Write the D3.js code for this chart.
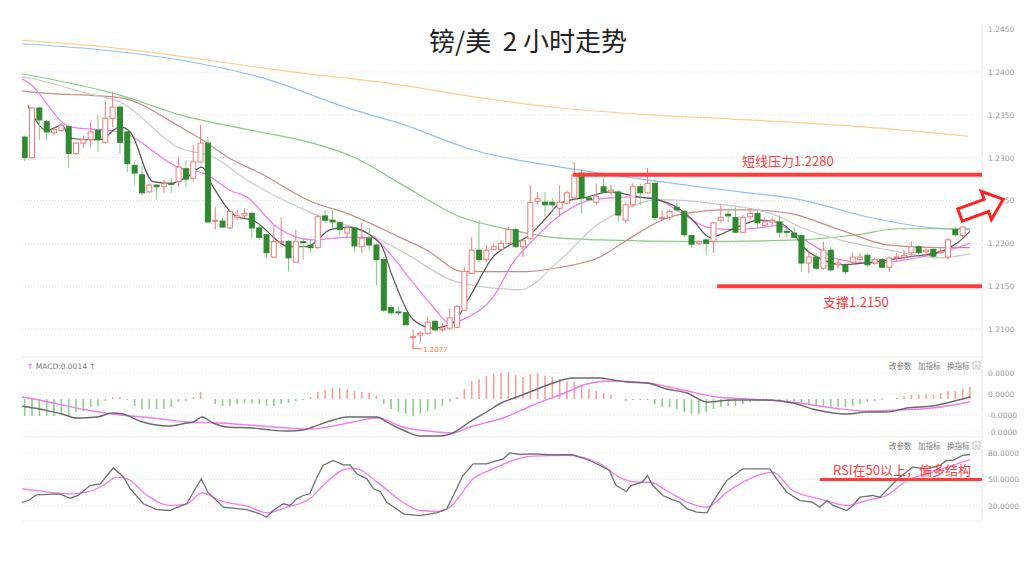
<!DOCTYPE html>
<html><head><meta charset="utf-8">
<script src="https://cdn.jsdelivr.net/npm/d3@7"></script>
<style>body{margin:0;background:#fff;}svg{display:block;font-family:"Noto Sans CJK SC","Noto Sans",sans-serif;}</style>
</head><body><svg id="c" width="1024" height="571"></svg>
<script>
// ---------- DATA ----------
const title = "镑/美  2 小时走势";
const opens = [1.2324,1.2300,1.2358,1.2342,1.2329,1.2332,1.2336,1.2305,1.2317,1.2321,1.2332,1.2318,1.2346,1.2359,1.2330,1.2291,1.2280,1.2260,1.2268,1.2266,1.2270,1.2272,1.2287,1.2276,1.2295,1.2317,1.2226,1.2226,1.2218,1.2230,1.2232,1.2235,1.2218,1.2210,1.2184,1.2201,1.2202,1.2178,1.2202,1.2198,1.2195,1.2232,1.2227,1.2224,1.2212,1.2218,1.2196,1.2206,1.2198,1.2181,1.2125,1.2120,1.2119,1.2090,1.2093,1.2095,1.2109,1.2099,1.2101,1.2102,1.2122,1.2165,1.2192,1.2181,1.2193,1.2193,1.2200,1.2216,1.2196,1.2206,1.2249,1.2248,1.2248,1.2241,1.2247,1.2253,1.2282,1.2253,1.2248,1.2266,1.2260,1.2260,1.2227,1.2245,1.2266,1.2259,1.2270,1.2229,1.2230,1.2242,1.2237,1.2209,1.2200,1.2204,1.2202,1.2227,1.2234,1.2230,1.2213,1.2231,1.2235,1.2221,1.2225,1.2225,1.2214,1.2212,1.2209,1.2177,1.2184,1.2171,1.2192,1.2175,1.2175,1.2178,1.2181,1.2186,1.2177,1.2181,1.2172,1.2183,1.2184,1.2189,1.2196,1.2190,1.2193,1.2190,1.2184,1.2216,1.2209,1.2230];
const highs = [1.2326,1.2359,1.2359,1.2344,1.2336,1.2340,1.2338,1.2318,1.2326,1.2342,1.2350,1.2365,1.2377,1.2361,1.2332,1.2295,1.2291,1.2270,1.2269,1.2274,1.2276,1.2301,1.2297,1.2315,1.2338,1.2324,1.2242,1.2230,1.2238,1.2239,1.2241,1.2237,1.2221,1.2211,1.2221,1.2230,1.2204,1.2216,1.2206,1.2204,1.2233,1.2239,1.2239,1.2225,1.2219,1.2219,1.2224,1.2218,1.2200,1.2184,1.2128,1.2126,1.2120,1.2099,1.2097,1.2114,1.2111,1.2107,1.2124,1.2128,1.2172,1.2207,1.2227,1.2198,1.2200,1.2204,1.2219,1.2218,1.2206,1.2268,1.2260,1.2260,1.2253,1.2268,1.2262,1.2295,1.2286,1.2254,1.2270,1.2276,1.2268,1.2262,1.2248,1.2270,1.2270,1.2288,1.2274,1.2239,1.2239,1.2247,1.2239,1.2210,1.2204,1.2206,1.2225,1.2245,1.2241,1.2242,1.2233,1.2241,1.2239,1.2230,1.2230,1.2233,1.2219,1.2219,1.2210,1.2192,1.2189,1.2202,1.2196,1.2181,1.2177,1.2189,1.2189,1.2189,1.2184,1.2183,1.2184,1.2189,1.2192,1.2202,1.2198,1.2196,1.2194,1.2194,1.2206,1.2219,1.2220,1.2242];
const lows = [1.2296,1.2298,1.2321,1.2321,1.2326,1.2330,1.2288,1.2303,1.2311,1.2312,1.2307,1.2316,1.2336,1.2305,1.2283,1.2268,1.2256,1.2259,1.2251,1.2259,1.2259,1.2266,1.2265,1.2272,1.2294,1.2224,1.2216,1.2218,1.2216,1.2227,1.2230,1.2206,1.2204,1.2183,1.2183,1.2200,1.2167,1.2177,1.2181,1.2189,1.2194,1.2224,1.2218,1.2210,1.2207,1.2190,1.2189,1.2192,1.2151,1.2120,1.2116,1.2116,1.2104,1.2077,1.2084,1.2093,1.2097,1.2097,1.2099,1.2101,1.2121,1.2164,1.2178,1.2178,1.2192,1.2192,1.2198,1.2195,1.2184,1.2204,1.2245,1.2231,1.2241,1.2231,1.2245,1.2251,1.2235,1.2249,1.2245,1.2259,1.2256,1.2225,1.2224,1.2242,1.2245,1.2258,1.2227,1.2227,1.2227,1.2237,1.2207,1.2195,1.2198,1.2186,1.2189,1.2224,1.2224,1.2212,1.2212,1.2227,1.2218,1.2219,1.2221,1.2207,1.2207,1.2206,1.2167,1.2165,1.2169,1.2169,1.2167,1.2171,1.2164,1.2175,1.2177,1.2172,1.2175,1.2171,1.2167,1.2178,1.2181,1.2184,1.2184,1.2186,1.2183,1.2188,1.2181,1.2207,1.2206,1.2227];
const closes = [1.2300,1.2358,1.2344,1.2330,1.2333,1.2338,1.2305,1.2317,1.2321,1.2330,1.2321,1.2346,1.2359,1.2318,1.2293,1.2282,1.2259,1.2268,1.2266,1.2270,1.2269,1.2289,1.2275,1.2295,1.2317,1.2225,1.2227,1.2219,1.2237,1.2232,1.2235,1.2218,1.2207,1.2189,1.2202,1.2202,1.2183,1.2202,1.2201,1.2195,1.2231,1.2227,1.2225,1.2216,1.2218,1.2197,1.2206,1.2198,1.2181,1.2122,1.2119,1.2119,1.2105,1.2091,1.2095,1.2108,1.2099,1.2101,1.2113,1.2126,1.2167,1.2192,1.2181,1.2192,1.2196,1.2200,1.2216,1.2196,1.2203,1.2248,1.2252,1.2245,1.2245,1.2248,1.2259,1.2280,1.2253,1.2251,1.2255,1.2260,1.2262,1.2233,1.2245,1.2266,1.2259,1.2270,1.2230,1.2230,1.2237,1.2239,1.2210,1.2199,1.2202,1.2200,1.2224,1.2230,1.2232,1.2213,1.2230,1.2235,1.2224,1.2225,1.2227,1.2213,1.2213,1.2207,1.2177,1.2184,1.2171,1.2192,1.2169,1.2177,1.2167,1.2184,1.2184,1.2175,1.2181,1.2172,1.2183,1.2184,1.2186,1.2196,1.2189,1.2192,1.2185,1.2191,1.2204,1.2210,1.2219,1.2239];

// moving averages: [candle index, price]
const ma5  = [[0.45,1.2361],[3,1.2332],[5.1,1.2338],[6.2,1.2323],[8.5,1.2321],[10.3,1.2321],[13,1.2336],[14.4,1.2330],[17.5,1.2272],[19.8,1.2270],[22.1,1.2277],[24.2,1.2289],[25.7,1.2266],[29,1.2231],[31.1,1.2227],[36.2,1.2196],[38.5,1.2196],[41.7,1.2216],[44,1.2219],[48.5,1.2200],[50.2,1.2161],[53,1.2111],[55.7,1.2101],[58.4,1.2107],[60.7,1.2137],[63.9,1.2184],[66.2,1.2198],[68.5,1.2207],[71.3,1.2231],[73.1,1.2247],[76.7,1.2254],[79.9,1.2260],[83.9,1.2254],[86.3,1.2251],[89,1.2242],[91.2,1.2227],[93.5,1.2207],[97.2,1.2219],[100.3,1.2227],[103,1.2224],[104.4,1.2216],[106.7,1.2192],[108.9,1.2181],[111.2,1.2175],[115.7,1.2178],[120.4,1.2184],[124.9,1.2190],[127.2,1.2200],[129,1.2214]];
const ma10 = [[-0.4,1.2392],[0.45,1.2388],[6.2,1.2336],[13,1.2330],[21.2,1.2288],[24.9,1.2280],[28,1.2262],[30.3,1.2254],[34.4,1.2219],[39.3,1.2204],[44,1.2207],[47.5,1.2207],[49.4,1.2192],[53,1.2154],[55.7,1.2126],[58,1.2107],[60.3,1.2113],[63.9,1.2137],[66.6,1.2177],[69.4,1.2204],[73.1,1.2233],[77.5,1.2251],[82.2,1.2254],[85.7,1.2253],[89,1.2239],[93.1,1.2219],[96.6,1.2216],[100.3,1.2218],[103,1.2221],[104.8,1.2213],[108.1,1.2195],[111.2,1.2181],[115.7,1.2177],[120.4,1.2181],[124.9,1.2189],[129,1.2200]];
const ma20 = [[-0.4,1.2394],[0.45,1.2393],[8.5,1.2375],[13,1.2365],[21.2,1.2311],[25.7,1.2301],[30.3,1.2274],[39.3,1.2235],[46.7,1.2212],[51.2,1.2192],[59.4,1.2154],[67.6,1.2146],[73.1,1.2181],[78.5,1.2224],[79.9,1.2231],[86.7,1.2251],[93.5,1.2247],[103,1.2231],[105.8,1.2219],[111.2,1.2204],[118,1.2192],[124.9,1.2183],[129,1.2188]];
const ma30 = [[-0.4,1.2378],[0.45,1.2377],[13,1.2370],[21.2,1.2336],[24.9,1.2317],[27.6,1.2301],[32.1,1.2282],[39.3,1.2248],[44,1.2235],[51.2,1.2207],[54.9,1.2192],[59.8,1.2167],[68.5,1.2167],[73.1,1.2172],[78.5,1.2184],[82.2,1.2204],[89,1.2233],[95.8,1.2239],[98.9,1.2239],[104.4,1.2235],[111.2,1.2216],[118,1.2198],[124.9,1.2195],[129,1.2195]];
const ma60 = [[-0.4,1.2398],[13,1.2373],[21.2,1.2350],[32.1,1.2330],[39.3,1.2317],[44.8,1.2301],[51.2,1.2270],[59.4,1.2231],[66.2,1.2216],[73.1,1.2206],[78.5,1.2204],[92.1,1.2202],[105.8,1.2204],[113.5,1.2210],[119.4,1.2217],[129,1.2217]];
const ma120 = [[-0.4,1.2433],[10.3,1.2426],[21.2,1.2414],[32.1,1.2394],[44.8,1.2356],[51.2,1.2340],[61.2,1.2309],[73.1,1.2289],[78.5,1.2282],[92.1,1.2266],[97.6,1.2260],[105.8,1.2251],[114.9,1.2231],[123.9,1.2218],[129,1.2216]];
const ma250 = [[-0.4,1.2437],[10.3,1.2430],[24.9,1.2414],[32.1,1.2405],[37.6,1.2399],[51.2,1.2385],[62.1,1.2370],[73.1,1.2358],[85.3,1.2350],[98.9,1.2344],[112.6,1.2337],[128.7,1.2325]];
const priceTicks = [1.2100,1.2150,1.2200,1.2250,1.2300,1.2350,1.2400,1.2450];
const resistance = {price:1.2280, from:74.8, label:"短线压力1.2280"};
const support = {price:1.2150, from:94.5, label:"支撑1.2150"};
const lowMark = {index:53, label:"1.2077"};

// MACD
const macdHist = [-0.00085,-0.00085,-0.00085,-0.00085,-0.00085,-0.00075,-0.00085,-0.00065,-0.0006,-0.0004,-0.00035,-0.0001,0.0001,0.0001,-0.00005,-0.00035,-0.0005,-0.0005,-0.0005,-0.0005,-0.0004,-0.00015,-0.0001,0.0001,0.00035,0,-0.00025,-0.00035,-0.00035,-0.00025,-0.0002,-0.0002,-0.00025,-0.00035,-0.00035,-0.00025,-0.0002,-0.0001,-0.00005,0.0001,0.00035,0.00045,0.00055,0.00055,0.0005,0.0004,0.00035,0.0003,0.00015,-0.00025,-0.0005,-0.00065,-0.00075,-0.00085,-0.00075,-0.0006,-0.0005,-0.00035,-0.00015,0.0001,0.0005,0.0009,0.001,0.00115,0.00125,0.0013,0.00135,0.0012,0.0011,0.00125,0.0013,0.00115,0.0011,0.001,0.0009,0.00085,0.00065,0.0005,0.0004,0.0003,0.0002,0,-0.0001,-0.00005,-0.00005,-0.00005,-0.00025,-0.0004,-0.0004,-0.0005,-0.00065,-0.00075,-0.00075,-0.00065,-0.0005,-0.0004,-0.00035,-0.00035,-0.00025,-0.00015,-0.0001,-0.0001,-0.0001,-0.0001,-0.0001,-0.0001,-0.00015,-0.00025,-0.00035,-0.0004,-0.0004,-0.0004,-0.0004,-0.00035,-0.00025,-0.00015,-0.0001,-0.00005,0,0.00005,0.00015,0.0002,0.0002,0.00025,0.0002,0.0003,0.0004,0.0004,0.0005,0.0006];
const macdDif = [[-0.4,-0.00036],[0.45,-0.0004],[3.9,-0.00065],[5.1,-0.00075],[7.1,-0.00095],[9.9,-0.0009],[12,-0.0007],[13.4,-0.00075],[16.1,-0.00115],[19.8,-0.00135],[22.1,-0.0012],[23,-0.00115],[24.2,-0.0009],[25.7,-0.0012],[27.6,-0.0014],[31.1,-0.00145],[33.5,-0.00155],[35.8,-0.0016],[38,-0.00155],[39.3,-0.0014],[42.1,-0.00105],[44,-0.0009],[48.1,-0.0009],[49.4,-0.00115],[51.6,-0.00155],[53.9,-0.00185],[56.7,-0.00185],[58.4,-0.0017],[60.7,-0.00115],[63,-0.00065],[65.3,-0.00015],[67.2,0.0001],[70.3,0.00055],[72.1,0.0008],[74.8,0.00105],[78.5,0.00105],[80.3,0.00095],[82.2,0.00085],[84.9,0.0008],[87.6,0.0005],[90.4,0.0003],[93.1,-0.00015],[96.6,-0.00005],[101.3,-0.00005],[104.8,-0.0002],[108.1,-0.00055],[112.2,-0.00075],[114.9,-0.00065],[117.6,-0.00065],[120.4,-0.00045],[123.9,-0.00035],[125.8,-0.0002],[129,0.0001]];
const macdDea = [[-0.4,0.0001],[0.45,0.00005],[8.5,-0.00055],[12,-0.00075],[17.5,-0.00095],[22.1,-0.00115],[26.6,-0.0012],[35.8,-0.00145],[38.9,-0.0015],[44.8,-0.00115],[48.1,-0.00095],[51.6,-0.0014],[56.3,-0.00165],[58.4,-0.0017],[60.7,-0.0014],[65.3,-0.00095],[69.4,-0.0003],[74,0.00035],[76.7,0.00075],[79.8,0.0009],[84.9,0.0008],[89.8,0.00045],[94.5,0.0001],[101.3,-0.00005],[105.8,-0.0002],[110.3,-0.00045],[114.9,-0.0006],[119.4,-0.00055],[123.9,-0.00045],[129,-0.00015]];
const macdTicks = [0.0013,0.00025,-0.0008,-0.00165];
const macdTickLabels = ["0.0000","0.0000","-0.0000","-0.0000"];
const macdLabel = "MACD:0.0014";

// RSI
const rsi = [[-0.4,24],[0.5,26.2],[1.6,32.7],[4.8,33.8],[6.2,28.8],[7.3,31.9],[8.9,43.2],[10.3,45.1],[12.1,63.3],[13.5,52.6],[14.4,39.5],[16.2,22.5],[18,16],[19.8,14.9],[20.3,16.8],[22.1,22.5],[24.1,50.8],[25,35.6],[27.1,18.6],[30.3,16],[32.1,11.2],[33,7.3],[33.9,14.9],[35.3,22.5],[36.2,20.6],[37.1,28.1],[38,31.9],[38.9,33.8],[39.8,50.8],[40.7,65.9],[42.1,71.5],[43.5,66.6],[44.4,66.6],[45.3,56.5],[46.7,50.8],[47.6,39.5],[48.5,36.4],[49.4,24.3],[51.7,11.2],[53.9,9.2],[56.2,12.3],[57.6,16.8],[58.5,31.9],[59.8,54.5],[61.2,67.8],[63,67.8],[65.3,73.4],[66.2,80.2],[67.6,78.3],[69.3,79.1],[71.7,78],[74.8,78],[77.1,71.5],[78.5,65.9],[79.8,60.2],[80.7,43.2],[82.1,36.4],[82.7,43.2],[84.3,46.9],[85,54.5],[85.7,43.2],[87.1,31.9],[88.4,27.3],[89.4,24.3],[90.4,16.8],[91.7,13],[93.1,12.3],[93.9,24.3],[95.8,48.9],[98,62.1],[99.4,62.1],[101.7,62.1],[102.6,50.8],[104,35.6],[105.8,26.2],[107.5,24.3],[108.5,18.6],[109.5,26.2],[110.3,20.6],[112.2,14.9],[113,20.6],[114,30],[115.7,31.9],[116.7,30],[117.6,37.5],[119.4,52.6],[121.2,63.9],[123.1,62.1],[124.9,65.9],[125.8,71.5],[126.6,71.5],[128,77.2],[129,78.3]];
const rsiSignal = [[-0.4,39.5],[0.45,38.7],[6.2,33.8],[8.5,35.6],[10.7,43.2],[12.6,52.6],[14,50.8],[16.7,31.9],[19.8,20.6],[22.1,22.5],[24.2,34.9],[26.6,26.2],[30.3,19.8],[33.1,12.3],[35.8,18.6],[38.9,28.1],[41.2,47],[44,62.1],[45.3,62.1],[48.1,47],[51.6,24.3],[53.9,14.9],[56.7,13.8],[58,18.6],[61.2,50.8],[63.9,62.1],[67.6,74.1],[69.3,76.4],[74,77.2],[78.5,67.8],[81.6,50.8],[83.9,46.9],[85.3,46.9],[87.6,37.5],[90.4,24.3],[93.1,18.6],[95.8,35.6],[98.9,50.8],[102.1,58.3],[104.8,37.5],[108.5,28.1],[112.2,20.6],[114.9,26.2],[117.6,31.9],[120.4,48.9],[123.9,58.3],[129,72.6]];
const rsiTicks = [20,50,80];
const rsiNote = {value:50, from:108.5, label:"RSI在50以上，偏多结构"};
const toolLabels = ["改参数","加指标","换指标"];

// ---------- DRAW ----------
const svg = d3.select("#c");
const L = 22, R = 982;
const x = d3.scaleLinear().domain([0,129]).range([24.7,970]);
const y = d3.scaleLinear().domain([1.2100,1.2400]).range([329,72]);
const my = d3.scaleLinear().domain([-0.001,0.001]).range([419,379]);
const ry = d3.scaleLinear().domain([20,80]).range([506,453]);

const defs = svg.append("defs");
defs.append("clipPath").attr("id","mainClip").append("rect").attr("x",L).attr("y",25).attr("width",R-L).attr("height",328);
defs.append("clipPath").attr("id","macdClip").append("rect").attr("x",L).attr("y",358).attr("width",R-L).attr("height",80);
defs.append("clipPath").attr("id","rsiClip").append("rect").attr("x",L).attr("y",438).attr("width",R-L).attr("height",83);

// title
svg.append("text").attr("x",528).attr("y",51).attr("text-anchor","middle").style("white-space","pre")
  .attr("font-size",26).attr("fill","#222").text(title);

// frame lines
svg.append("line").attr("x1",R).attr("x2",R).attr("y1",25).attr("y2",521).attr("stroke","#e8e8e8");
[357,437,521].forEach(v=>svg.append("line").attr("x1",L).attr("x2",R).attr("y1",v).attr("y2",v).attr("stroke","#ececec"));

// main grid + axis
const gridG = svg.append("g");
gridG.selectAll("line").data(priceTicks.filter(d=>d<1.245)).join("line")
  .attr("x1",L).attr("x2",R).attr("y1",d=>y(d)).attr("y2",d=>y(d))
  .attr("stroke","#dcdcdc").attr("stroke-dasharray","1,2");
const axMain = svg.append("g").attr("transform",`translate(${R},0)`)
  .call(d3.axisRight(y).tickValues(priceTicks).tickFormat(d3.format(".4f")).tickSize(0).tickPadding(6));
axMain.select(".domain").remove();
axMain.selectAll("text").attr("font-size",7.5).attr("fill","#999").attr("font-family","DejaVu Sans");

// MAs
const mainG = svg.append("g").attr("clip-path","url(#mainClip)");
const line = d3.line().x(d=>x(d[0])).y(d=>y(d[1])).curve(d3.curveMonotoneX);
[[ma250,"#fbcf8c",1.2],[ma120,"#8fc2ee",1.2],[ma60,"#86c986",1.2],[ma30,"#c48d88",1.2],[ma20,"#c8c8c8",1.2],[ma10,"#f07cf0",1.2],[ma5,"#555",1.2]]
 .forEach(([d,c,w])=>mainG.append("path").attr("d",line(d)).attr("fill","none").attr("stroke",c).attr("stroke-width",w));

// candles
const idx = d3.range(opens.length);
const upC = "#f07a7a", dnC = "#2f8a2f", dnWick = "#86c886";
const cg = mainG.append("g");
cg.selectAll("line").data(idx).join("line")
  .attr("x1",i=>x(i)).attr("x2",i=>x(i)).attr("y1",i=>y(highs[i])).attr("y2",i=>y(lows[i]))
  .attr("stroke",i=>closes[i]>=opens[i]?upC:dnWick).attr("stroke-width",1);
cg.selectAll("rect").data(idx).join("rect")
  .attr("x",i=>x(i)-2.5).attr("width",5)
  .attr("y",i=>y(Math.max(opens[i],closes[i])))
  .attr("height",i=>Math.max(1,Math.abs(y(opens[i])-y(closes[i]))))
  .attr("fill",i=>closes[i]>=opens[i]?"#fff":dnC)
  .attr("stroke",i=>closes[i]>=opens[i]?upC:dnC).attr("stroke-width",1);

// low marker
const lx = x(lowMark.index), ly = y(lows[lowMark.index]);
svg.append("path").attr("d",`M${lx},${ly-4}V${ly}H${lx+9}`).attr("fill","none").attr("stroke","#f08040");
svg.append("text").attr("x",lx+10).attr("y",ly+3).attr("font-size",7).attr("fill","#f08040").attr("font-family","DejaVu Sans").text(lowMark.label);

// resistance / support
const red = "#ff3b3b";
svg.append("line").attr("x1",x(resistance.from)).attr("x2",R).attr("y1",y(resistance.price)).attr("y2",y(resistance.price)).attr("stroke",red).attr("stroke-width",4);
svg.append("text").attr("x",742).attr("y",y(resistance.price)-9).attr("font-size",13).attr("fill",red).text(resistance.label);
svg.append("line").attr("x1",x(support.from)).attr("x2",R).attr("y1",y(support.price)).attr("y2",y(support.price)).attr("stroke",red).attr("stroke-width",4);
svg.append("text").attr("x",823).attr("y",y(support.price)+21).attr("font-size",13).attr("fill",red).text(support.label);

// arrow
svg.append("path").attr("d","M0,-6.5H28V-15L46,0L28,15V6.5H0Z").attr("transform","translate(960,215) rotate(-20)")
  .attr("fill","#fff").attr("stroke","#ff2020").attr("stroke-width",3).attr("stroke-linejoin","miter");

// ---- MACD panel ----
const macdG = svg.append("g");
macdG.selectAll("line.g").data(macdTicks).join("line").attr("class","g")
  .attr("x1",L).attr("x2",R).attr("y1",d=>my(d)).attr("y2",d=>my(d)).attr("stroke","#e2e2e2").attr("stroke-dasharray","1,2");
const axM = svg.append("g").attr("transform",`translate(${R},0)`)
  .call(d3.axisRight(my).tickValues(macdTicks).tickFormat((d,i)=>macdTickLabels[i]).tickSize(0).tickPadding(6));
axM.select(".domain").remove();
axM.selectAll("text").attr("font-size",7.5).attr("fill","#999").attr("font-family","DejaVu Sans");
const mc = macdG.append("g").attr("clip-path","url(#macdClip)");
mc.selectAll("line.b").data(idx).join("line").attr("class","b")
  .attr("x1",i=>x(i)).attr("x2",i=>x(i)).attr("y1",my(0)).attr("y2",i=>my(macdHist[i]))
  .attr("stroke",i=>macdHist[i]>=0?"#f4a0a0":"#8fcc8f").attr("stroke-width",1.6);
const ml = d3.line().x(d=>x(d[0])).y(d=>my(d[1])).curve(d3.curveMonotoneX);
mc.append("path").attr("d",ml(macdDea)).attr("fill","none").attr("stroke","#f07cf0").attr("stroke-width",1.4);
mc.append("path").attr("d",ml(macdDif)).attr("fill","none").attr("stroke","#6a6a6a").attr("stroke-width",1.4);
const mlab = svg.append("text").attr("x",27).attr("y",369).attr("font-size",7.5).attr("font-family","DejaVu Sans");
mlab.append("tspan").attr("fill","#f040f0").text("↑ ");
mlab.append("tspan").attr("fill","#777").text(macdLabel+" ↑");

// tool labels
function tools(yy){
  const g = svg.append("g");
  toolLabels.forEach((t,i)=>g.append("text").attr("x",889+i*29).attr("y",yy).attr("font-size",7.5).attr("fill","#777").text(t));
  g.append("rect").attr("x",973).attr("y",yy-7).attr("width",7).attr("height",7).attr("fill","#fff").attr("stroke","#aaa").attr("stroke-width",0.7);
  g.append("text").attr("x",976.5).attr("y",yy-1.5).attr("text-anchor","middle").attr("font-size",6).attr("fill","#888").text("×");
}
tools(369); tools(449);

// ---- RSI panel ----
const rsiG = svg.append("g");
rsiG.selectAll("line").data(rsiTicks).join("line")
  .attr("x1",L).attr("x2",R).attr("y1",d=>ry(d)).attr("y2",d=>ry(d)).attr("stroke","#e2e2e2").attr("stroke-dasharray","1,2");
const axR = svg.append("g").attr("transform",`translate(${R},0)`)
  .call(d3.axisRight(ry).tickValues(rsiTicks).tickFormat(d3.format(".4f")).tickSize(0).tickPadding(6));
axR.select(".domain").remove();
axR.selectAll("text").attr("font-size",7.5).attr("fill","#999").attr("font-family","DejaVu Sans");
const rc = rsiG.append("g").attr("clip-path","url(#rsiClip)");
rc.append("path").attr("d",d3.line().x(d=>x(d[0])).y(d=>ry(d[1])).curve(d3.curveMonotoneX)(rsiSignal)).attr("fill","none").attr("stroke","#f07cf0").attr("stroke-width",1.3);
rc.append("path").attr("d",d3.line().x(d=>x(d[0])).y(d=>ry(d[1]))(rsi)).attr("fill","none").attr("stroke","#707070").attr("stroke-width",1.3);
svg.append("line").attr("x1",x(rsiNote.from)).attr("x2",R).attr("y1",ry(rsiNote.value)).attr("y2",ry(rsiNote.value)).attr("stroke",red).attr("stroke-width",3);
svg.append("text").attr("x",833).attr("y",ry(rsiNote.value)-5).attr("font-size",13).attr("fill",red).text(rsiNote.label);
</script></body></html>
